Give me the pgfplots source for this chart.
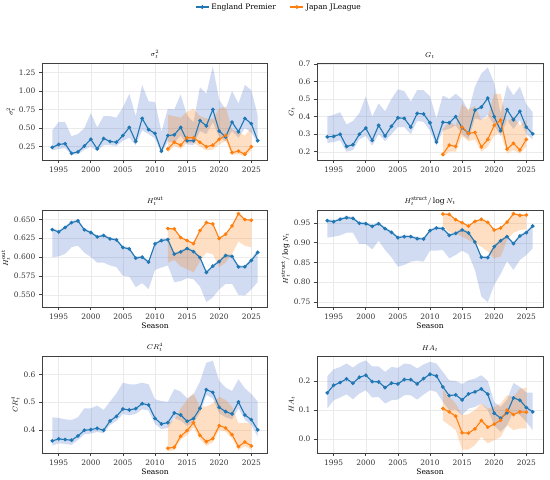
\documentclass[border=0pt]{standalone}
\usepackage{fontspec}
\setmainfont{DejaVu Serif}
\usepackage{pgfplots}
\pgfplotsset{compat=1.18}
\usepackage{pgfplotstable}
\usepgfplotslibrary{fillbetween}

\definecolor{engc}{RGB}{31,119,180}
\definecolor{japc}{RGB}{255,127,14}
\definecolor{engb}{RGB}{70,110,200}
\definecolor{japb}{RGB}{255,127,14}

\pgfplotstableread{
year s sL sH g gL gH ho hoL hoH hs hsL hsH cr crL crH ha haL haH
1994 .24 .20 .47 .285 .25 .40 .6363 .5998 .6383 .9559 .9129 .9599 .3605 .3437 .4455 .1586 .1046 .216
1995 .28 .22 .58 .287 .255 .41 .6333 .6007 .6353 .9534 .9154 .9574 .3677 .352 .443 .185 .1333 .24
1996 .29 .23 .58 .30 .265 .425 .639 .6042 .641 .9593 .9188 .9633 .3653 .3497 .4383 .1943 .1425 .248
1997 .16 .14 .39 .23 .20 .355 .6456 .613 .6476 .9635 .9255 .9675 .363 .3461 .436 .2069 .154 .26
1998 .18 .15 .42 .24 .21 .375 .6478 .615 .6498 .9618 .9255 .9658 .3784 .364 .4455 .192 .1368 .246
1999 .26 .21 .50 .30 .27 .42 .636 .6057 .638 .9492 .8968 .9532 .3988 .3844 .4778 .2126 .1563 .262
2000 .35 .25 .70 .335 .29 .515 .6324 .60 .6344 .9483 .8968 .9523 .4012 .3868 .4778 .2195 .1678 .271
2001 .22 .19 .51 .265 .235 .40 .6267 .5925 .6287 .9416 .8833 .9456 .406 .3928 .4874 .1977 .1425 .25
2002 .36 .27 .66 .35 .30 .475 .6284 .5925 .6304 .9483 .9052 .9523 .3988 .388 .4719 .1966 .145 .25
2003 .32 .27 .66 .29 .26 .43 .624 .5888 .626 .9357 .8816 .9397 .4323 .418 .5018 .177 .1218 .231
2004 .31 .26 .64 .345 .30 .50 .6227 .5866 .6247 .9264 .8631 .9304 .449 .4323 .5317 .192 .1333 .248
2005 .40 .33 .78 .393 .34 .555 .6125 .575 .6145 .9129 .8394 .9169 .4754 .4575 .57 .1897 .1356 .245
2006 .51 .37 .96 .39 .34 .545 .6108 .574 .6128 .9154 .8437 .9194 .4719 .4527 .564 .2046 .1506 .26
2007 .32 .27 .66 .34 .30 .485 .5985 .56 .6005 .9154 .8521 .9194 .4766 .4575 .564 .2046 .1506 .257
2008 .63 .47 1.08 .418 .375 .55 .5998 .5654 .6018 .9103 .8546 .9143 .4946 .4743 .57 .1897 .1356 .243
2009 .48 .42 .86 .415 .37 .55 .5932 .5575 .5952 .9095 .8521 .9135 .4898 .4695 .564 .208 .1529 .257
2010 .43 .36 .85 .365 .32 .515 .6174 .583 .6194 .9306 .88 .9346 .4419 .4216 .5102 .223 .1678 .266
2011 .19 .16 .45 .255 .235 .39 .6218 .586 .6238 .9373 .88 .9413 .4216 .4024 .5042 .2172 .162 .26
2012 .40 .32 .76 .368 .32 .52 .6231 .5888 .6251 .9357 .8816 .9397 .4263 .4072 .5006 .1793 .1276 .231
2013 .41 .30 .75 .365 .33 .50 .6037 .5667 .6057 .9188 .8605 .9228 .461 .4419 .5473 .1494 .0989 .202
2014 .51 .40 .95 .40 .35 .53 .6068 .568 .6088 .9238 .869 .9278 .4539 .4335 .5377 .1517 .101 .20
2015 .33 .28 .67 .337 .30 .50 .6112 .572 .6132 .9323 .88 .9363 .4311 .4144 .5138 .1345 .0816 .189
2016 .33 .27 .58 .305 .27 .43 .6072 .5705 .6092 .9247 .8707 .9287 .4407 .4263 .5281 .1552 .1046 .202
2017 .60 .46 1.05 .437 .39 .57 .5993 .561 .6013 .9019 .831 .9059 .4778 .4623 .5737 .162 .11 .208
2018 .53 .42 .96 .454 .38 .645 .5795 .5403 .5815 .8631 .7635 .8671 .5449 .5257 .6419 .1724 .1218 .2195
2019 .75 .58 1.33 .505 .41 .68 .5879 .5465 .5899 .8622 .7492 .8662 .5353 .5138 .649 .154 .0989 .20
2020 .46 .38 .88 .40 .35 .59 .594 .557 .596 .89 .7932 .894 .4814 .4599 .5772 .0885 .047 .1276
2021 .38 .32 .75 .32 .29 .42 .602 .5645 .604 .9052 .8209 .9092 .4659 .4455 .5521 .0713 .024 .11
2022 .58 .46 1.00 .44 .38 .58 .6007 .5645 .6027 .9154 .8537 .9194 .4575 .4383 .5401 .0897 .047 .1356
2023 .45 .37 .83 .382 .33 .52 .587 .5497 .589 .8977 .831 .9017 .5006 .4778 .582 .1414 .093 .193
2024 .63 .50 1.08 .43 .38 .57 .587 .549 .589 .9171 .8563 .9211 .4539 .4359 .5497 .1333 .0816 .179
2025 .56 .44 1.01 .34 .30 .47 .5954 .557 .5974 .9255 .869 .9295 .4371 .418 .5293 .108 .0586 .16
2026 .33 .30 .67 .302 .27 .425 .606 .567 .61 .9424 .8859 .9464 .40 .376 .5018 .0931 .03 .159
}\eng

\pgfplotstableread{
year s sL sH g gL gH ho hoL hoH hs hsL hsH cr crL crH ha haL haH
2012 .22 .17 .68 .185 .17 .33 .6377 .5923 .6387 .9728 .9424 .9738 .3341 .322 .424 .1046 .064 .171
2013 .31 .26 .66 .238 .20 .37 .6372 .5962 .6382 .9719 .9264 .9729 .3377 .328 .436 .0931 .047 .145
2014 .27 .22 .64 .23 .20 .35 .6258 .5875 .6268 .9584 .9238 .9594 .3772 .364 .4778 .0782 .03 .122
2015 .37 .30 .72 .34 .29 .47 .6218 .584 .6228 .9508 .9154 .9518 .3976 .382 .5078 .0207 -.037 .082
2016 .37 .30 .76 .305 .26 .44 .6178 .5795 .6188 .9424 .907 .9434 .4263 .4096 .5317 .0195 -.037 .085
2017 .31 .25 .66 .31 .27 .46 .635 .594 .636 .9542 .8985 .9552 .3808 .3665 .4838 .0345 -.022 .099
2018 .25 .20 .63 .227 .20 .38 .6456 .606 .6466 .9593 .89 .9603 .358 .3425 .4838 .0632 .007 .122
2019 .27 .21 .62 .27 .23 .40 .6438 .6037 .6448 .9517 .8774 .9527 .3689 .3557 .4958 .0402 -.016 .1046
2020 .35 .28 .76 .35 .29 .53 .6245 .5866 .6255 .9323 .8605 .9333 .4156 .40 .5198 .0506 -.005 .11
2021 .40 .33 .79 .38 .31 .53 .6302 .5925 .6312 .9373 .8647 .9383 .4072 .394 .5078 .0644 .007 .122
2022 .17 .14 .48 .215 .19 .37 .6412 .6042 .6422 .9525 .907 .9535 .3832 .369 .4838 .0989 .047 .15
2023 .19 .15 .45 .248 .21 .40 .6575 .6205 .6585 .9736 .9255 .9746 .3401 .328 .424 .0839 .03 .145
2024 .15 .12 .40 .21 .19 .35 .6496 .6148 .6506 .9694 .9323 .9704 .3569 .3425 .4263 .0931 .036 .1736
2025 .25 .20 .50 .27 .23 .38 .6487 .613 .6497 .9703 .934 .9713 .3425 .328 .4216 .092 .036 .176
}\jap

\pgfplotsset{
  panel/.style={
    scale only axis, width=226pt, height=97pt,
    xmin=1992.4, xmax=2027.6,
    xtick={1995,2000,2005,2010,2015,2020,2025},
    grid=major, major grid style={black!8, line width=0.4pt},
    axis line style={draw=black!75, line width=1pt},
    tick align=outside, xtick pos=lower, ytick pos=left,
    major tick length=3pt, tick style={black!75, line width=0.6pt},
    /pgf/number format/assume math mode=true,
    ticklabel style={font=\fontsize{7.5}{8.5}\selectfont, text=black!80},
    x tick label style={/pgf/number format/1000 sep={}},
    title style={font=\fontsize{7.5}{8.5}\selectfont, yshift=-5pt},
    label style={font=\fontsize{7.5}{8.5}\selectfont},
    ylabel style={yshift=-3pt},
    xlabel style={yshift=3pt},
    legend style={draw=none, fill=none, font=\fontsize{7.5}{8.5}\selectfont,
      /tikz/every even column/.append style={column sep=12pt}},
    legend image code/.code={\draw[mark repeat=2,mark phase=2,##1] plot coordinates {(0pt,0pt) (6.5pt,0pt) (13pt,0pt)};},
  },
  eline/.style={color=engc, line width=1.1pt, mark=*, mark size=1.25pt, mark options={solid}},
  jline/.style={color=japc, line width=1.1pt, mark=*, mark size=1.25pt, mark options={solid}},
  prec/.style={yticklabel style={/pgf/number format/.cd, fixed, fixed zerofill, precision=#1}},
}

\newcommand{\panelplots}[1]{%
  \addplot[name path=eH, draw=none, forget plot] table[x=year, y=#1H]{\eng};
  \addplot[name path=eL, draw=none, forget plot] table[x=year, y=#1L]{\eng};
  \addplot[fill=engb, fill opacity=0.25, draw=none, forget plot] fill between[of=eH and eL];
  \addplot[name path=jH, draw=none, forget plot] table[x=year, y=#1H]{\jap};
  \addplot[name path=jL, draw=none, forget plot] table[x=year, y=#1L]{\jap};
  \addplot[fill=japb, fill opacity=0.25, draw=none, forget plot] fill between[of=jH and jL];
  \addplot[eline] table[x=year, y=#1]{\eng};
  \addplot[jline] table[x=year, y=#1]{\jap};
}

\begin{document}
\begin{tikzpicture}[x=1pt,y=1pt]

\begin{axis}[panel, at={(42pt,-160pt)}, anchor=south west,
  ymin=0.071, ymax=1.375, ytick={0.25,0.5,0.75,1.0,1.25}, prec=2,
  title={$\sigma_t^2$}, ylabel={$\sigma_t^2$},
  legend columns=2,
  legend style={at={(1.049,1.577)}, anchor=center}]
\panelplots{s}
\legend{England Premier, Japan JLeague}
\end{axis}

\begin{axis}[panel, at={(317pt,-160pt)}, anchor=south west,
  ymin=0.153, ymax=0.705, ytick={0.2,0.3,0.4,0.5,0.6,0.7}, prec=1,
  title={$G_t$}, ylabel={$G_t$}]
\panelplots{g}
\end{axis}

\begin{axis}[panel, at={(42pt,-307pt)}, anchor=south west,
  ymin=0.5337, ymax=0.6623, ytick={0.55,0.575,0.6,0.625,0.65}, prec=3,
  title={$H_t^{\mathrm{out}}$}, ylabel={$H_t^{\mathrm{out}}$}, xlabel={Season}]
\panelplots{ho}
\end{axis}

\begin{axis}[panel, at={(317pt,-307pt)}, anchor=south west,
  ymin=0.737, ymax=0.983, ytick={0.75,0.8,0.85,0.9,0.95}, prec=2,
  title={$H_t^{\mathrm{struct}}/\log N_t$}, ylabel={$H_t^{\mathrm{struct}}/\log N_t$}, xlabel={Season}]
\panelplots{hs}
\end{axis}

\begin{axis}[panel, at={(42pt,-453pt)}, anchor=south west,
  ymin=0.317, ymax=0.666, ytick={0.4,0.5,0.6}, prec=1,
  title={$CR_t^4$}, ylabel={$CR_t^4$}, xlabel={Season}]
\panelplots{cr}
\end{axis}

\begin{axis}[panel, at={(317pt,-453pt)}, anchor=south west,
  ymin=-0.049, ymax=0.286, ytick={0,0.1,0.2}, prec=1,
  title={$HA_t$}, ylabel={$HA_t$}, xlabel={Season}]
\panelplots{ha}
\end{axis}

\pgfresetboundingbox
\useasboundingbox (0,0) rectangle (550,-480);
\end{tikzpicture}
\end{document}
